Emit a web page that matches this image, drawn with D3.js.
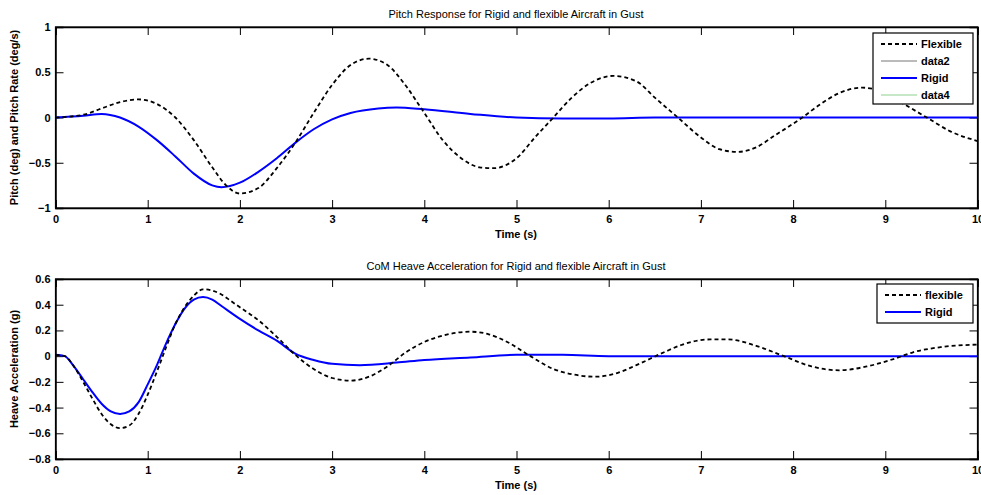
<!DOCTYPE html>
<html><head><meta charset="utf-8">
<script src="https://cdn.jsdelivr.net/npm/d3@7"></script>
<style>
body{margin:0;background:#fff;}
svg{display:block;font-family:"Liberation Sans",Arial,sans-serif;}
</style></head>
<body><svg id="c" width="981" height="495"></svg>
<script>
// ---- Data ----
const xTicks = [0,1,2,3,4,5,6,7,8,9,10];
const pitchTicks = [1,0.5,0,-0.5,-1];
const heaveTicks = [0.6,0.4,0.2,0,-0.2,-0.4,-0.6,-0.8];

const pitchFlexT = [0,0.3,0.5,0.7,0.9,1.1,1.3,1.5,1.7,1.85,2.0,2.2,2.4,2.6,2.8,3.0,3.2,3.4,3.6,3.8,4.0,4.2,4.4,4.6,4.75,5.0,5.2,5.4,5.6,5.8,6.05,6.3,6.5,6.75,7.0,7.2,7.4,7.6,7.8,8.1,8.3,8.5,8.75,9.0,9.2,9.45,9.7,10.0];
const pitchFlexV = [0,0.03,0.1,0.17,0.2,0.15,0.0,-0.25,-0.55,-0.75,-0.84,-0.78,-0.56,-0.28,0.05,0.36,0.58,0.65,0.58,0.35,0.05,-0.25,-0.45,-0.55,-0.56,-0.45,-0.22,0.0,0.22,0.38,0.46,0.4,0.22,0.0,-0.22,-0.35,-0.38,-0.33,-0.2,0.0,0.15,0.27,0.33,0.27,0.15,0.0,-0.15,-0.26];

const pitchRigidT = [0,0.3,0.5,0.7,0.9,1.1,1.3,1.5,1.7,1.8,2.0,2.2,2.4,2.6,2.8,3.0,3.2,3.5,3.7,4.0,4.5,5.0,5.5,6.0,6.5,7,8,9,10];
const pitchRigidV = [0,0.02,0.04,0.0,-0.1,-0.25,-0.43,-0.62,-0.75,-0.77,-0.72,-0.6,-0.45,-0.28,-0.13,-0.02,0.05,0.1,0.11,0.09,0.04,0.0,-0.01,-0.01,0.0,0,0,0,0];

const heaveFlexT = [0,0.1,0.2,0.3,0.4,0.5,0.6,0.7,0.8,0.9,1.0,1.1,1.2,1.3,1.4,1.5,1.6,1.7,1.8,1.9,2.0,2.2,2.4,2.6,2.8,3.0,3.2,3.4,3.6,3.8,4.0,4.2,4.5,4.7,4.9,5.15,5.4,5.6,5.85,6.1,6.3,6.6,6.8,7.1,7.3,7.6,7.9,8.2,8.5,8.8,9.1,9.3,9.6,10.0];
const heaveFlexV = [0.01,0.0,-0.08,-0.2,-0.33,-0.45,-0.53,-0.56,-0.54,-0.45,-0.3,-0.12,0.07,0.25,0.38,0.47,0.52,0.51,0.48,0.43,0.38,0.28,0.15,0.01,-0.1,-0.17,-0.19,-0.16,-0.08,0.03,0.11,0.16,0.19,0.17,0.11,0.0,-0.1,-0.14,-0.16,-0.13,-0.07,0.03,0.09,0.13,0.13,0.08,0.0,-0.08,-0.11,-0.08,-0.02,0.03,0.07,0.09];

const heaveRigidT = [0,0.1,0.2,0.3,0.4,0.5,0.6,0.7,0.8,0.9,1.0,1.1,1.2,1.3,1.4,1.5,1.6,1.7,1.8,2.0,2.2,2.4,2.6,2.8,3.0,3.3,3.7,4.0,4.5,5.0,5.5,6.0,7,8,9,10];
const heaveRigidV = [0.01,0.0,-0.08,-0.18,-0.28,-0.37,-0.43,-0.45,-0.43,-0.36,-0.22,-0.07,0.1,0.25,0.37,0.44,0.46,0.44,0.39,0.29,0.2,0.12,0.02,-0.03,-0.06,-0.07,-0.05,-0.03,-0.01,0.01,0.01,0.0,0,0,0,0];

const svg = d3.select("#c");

function panel(cfg){
  const g = svg.append("g");
  const x = d3.scaleLinear().domain([0,10]).range([55.5,977.5]);
  const y = d3.scaleLinear().domain(cfg.yDomain).range([cfg.bottom, cfg.top]);
  g.append("rect").attr("x",x(0)).attr("y",cfg.top).attr("width",x(10)-x(0)).attr("height",cfg.bottom-cfg.top)
    .attr("fill","#fff").attr("stroke","none");
  const tl = 8;
  const xa = g.append("g").attr("transform",`translate(0,${cfg.bottom})`)
    .call(d3.axisBottom(x).tickValues(xTicks).tickSize(-tl).tickPadding(7).tickFormat(d3.format("d")));
  const xat = g.append("g").attr("transform",`translate(0,${cfg.top})`)
    .call(d3.axisTop(x).tickValues(xTicks).tickSize(-tl).tickFormat(""));
  const ya = g.append("g").attr("transform",`translate(${x(0)},0)`)
    .call(d3.axisLeft(y).tickValues(cfg.yTicks).tickSize(-tl).tickPadding(5).tickFormat(d=>d3.format("")(d)));
  const yar = g.append("g").attr("transform",`translate(${x(10)},0)`)
    .call(d3.axisRight(y).tickValues(cfg.yTicks).tickSize(-tl).tickFormat(""));
  [xa,xat,ya,yar].forEach(a=>{
    a.selectAll(".domain").attr("stroke","#000").attr("stroke-width",1.5);
    a.selectAll(".tick line").attr("stroke","#000").attr("stroke-width",1);
    a.selectAll("text").attr("font-size",11).attr("font-weight","bold").attr("fill","#000")
      .attr("font-family","'Liberation Sans',Arial,sans-serif");
  });
  const line = d3.line().x(d=>x(d[0])).y(d=>y(d[1])).curve(d3.curveMonotoneX);
  g.append("clipPath").attr("id","clip"+cfg.id).append("rect")
    .attr("x",x(0)).attr("y",cfg.top).attr("width",x(10)-x(0)).attr("height",cfg.bottom-cfg.top);
  const series = [
    {t:cfg.rigidT,v:cfg.rigidV,color:"#0000ff",dash:null,w:2},
    {t:cfg.flexT,v:cfg.flexV,color:"#000",dash:"4,3",w:1.8}
  ];
  series.forEach(s=>{
    g.append("path").datum(s.t.map((t,i)=>[t,s.v[i]]))
      .attr("d",line).attr("fill","none").attr("stroke",s.color).attr("stroke-width",s.w)
      .attr("stroke-dasharray",s.dash).attr("clip-path",`url(#clip${cfg.id})`);
  });
  g.append("rect").attr("x",x(0)).attr("y",cfg.top).attr("width",x(10)-x(0)).attr("height",cfg.bottom-cfg.top)
    .attr("fill","none").attr("stroke","#000").attr("stroke-width",1.2);
  g.append("text").attr("x",516).attr("y",cfg.top-9).attr("text-anchor","middle")
    .attr("font-size",11).attr("fill","#000").text(cfg.title);
  g.append("text").attr("x",516).attr("y",cfg.bottom+29.5).attr("text-anchor","middle")
    .attr("font-size",11).attr("font-weight","bold").attr("fill","#000").text("Time (s)");
  g.append("text").attr("transform",`translate(18,${(cfg.top+cfg.bottom)/2}) rotate(-90)`)
    .attr("text-anchor","middle").attr("font-size",11).attr("font-weight","bold").attr("fill","#000").text(cfg.ylabel);
  const L = cfg.legend;
  const lg = g.append("g");
  lg.append("rect").attr("x",L.x).attr("y",L.y).attr("width",L.w).attr("height",L.h)
    .attr("fill","#fff").attr("stroke","#000").attr("stroke-width",1.2);
  L.items.forEach((it,i)=>{
    const yy = L.y + 11 + i*17;
    lg.append("line").attr("x1",L.x+8).attr("x2",L.x+44).attr("y1",yy).attr("y2",yy)
      .attr("stroke",it.color).attr("stroke-width",it.w).attr("stroke-dasharray",it.dash);
    lg.append("text").attr("x",L.x+48).attr("y",yy).attr("dy","0.35em").attr("font-size",11)
      .attr("font-weight","bold").attr("fill","#000").text(it.name);
  });
}

panel({id:1, top:27, bottom:208, yDomain:[-1,1], yTicks:pitchTicks,
  flexT:pitchFlexT, flexV:pitchFlexV, rigidT:pitchRigidT, rigidV:pitchRigidV,
  title:"Pitch Response for Rigid and flexible Aircraft in Gust",
  ylabel:"Pitch (deg) and Pitch Rate (deg/s)",
  legend:{x:873,y:33,w:100,h:71,items:[
    {name:"Flexible",color:"#000",dash:"4,3",w:1.8},
    {name:"data2",color:"#777",dash:null,w:1},
    {name:"Rigid",color:"#0000ff",dash:null,w:2},
    {name:"data4",color:"#8fd18f",dash:null,w:1}]}
});
panel({id:2, top:279, bottom:459, yDomain:[-0.8,0.6], yTicks:heaveTicks,
  flexT:heaveFlexT, flexV:heaveFlexV, rigidT:heaveRigidT, rigidV:heaveRigidV,
  title:"CoM Heave Acceleration for Rigid and flexible Aircraft in Gust",
  ylabel:"Heave Acceleration (g)",
  legend:{x:877,y:284,w:96,h:39,items:[
    {name:"flexible",color:"#000",dash:"4,3",w:1.8},
    {name:"Rigid",color:"#0000ff",dash:null,w:2}]}
});
</script></body></html>
